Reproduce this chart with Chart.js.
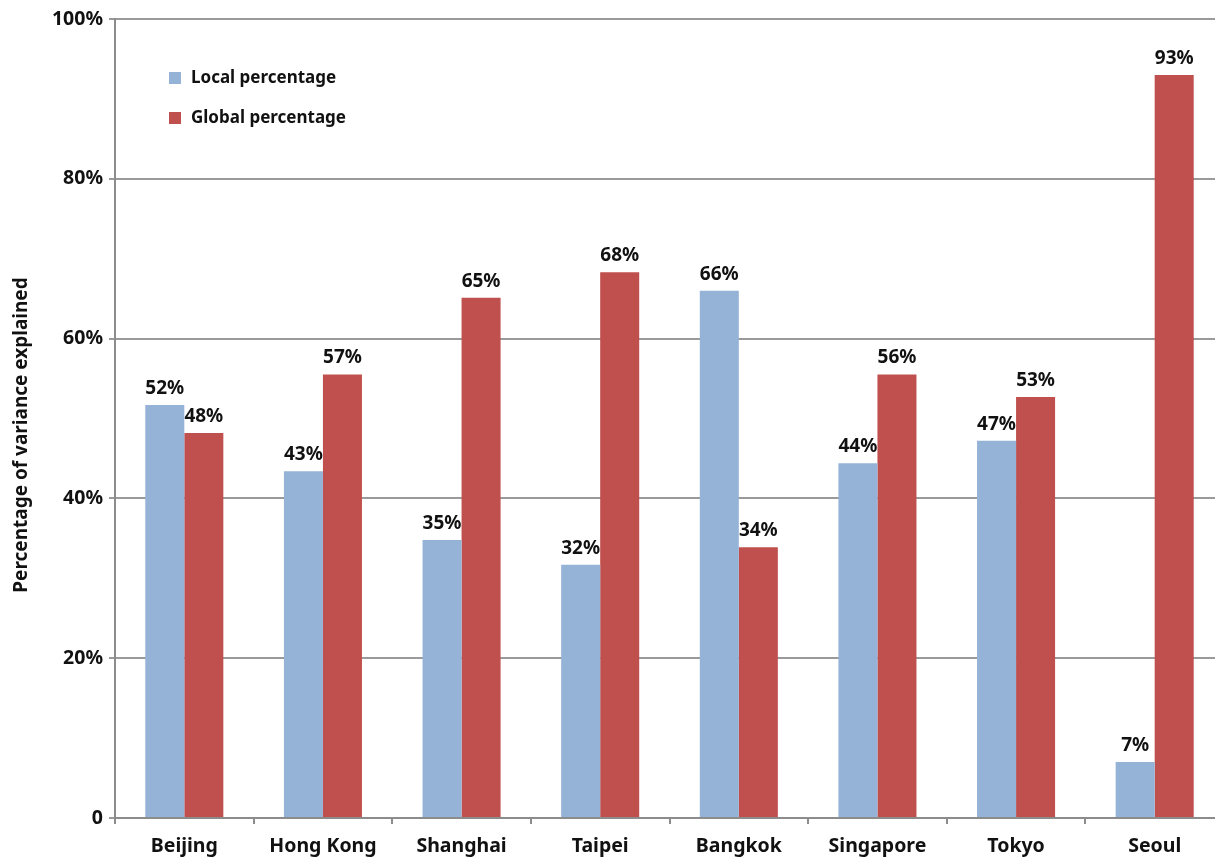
<!DOCTYPE html>
<html>
<head>
<meta charset="utf-8">
<script src="https://cdn.jsdelivr.net/npm/chart.js@4.4.0/dist/chart.umd.min.js"></script>
<style>
  html, body { margin: 0; padding: 0; background: #fff; overflow: hidden; }
  #wrap { width: 1224px; height: 861px; }
</style>
</head>
<body>
<div id="wrap"><canvas id="chart"></canvas></div>
<script>
// data
const cities = ['Beijing', 'Hong Kong', 'Shanghai', 'Taipei', 'Bangkok', 'Singapore', 'Tokyo', 'Seoul'];
const localValues = [51.7, 43.4, 34.8, 31.7, 66.0, 44.4, 47.2, 7.0];
const globalValues = [48.2, 55.5, 65.1, 68.3, 33.9, 55.5, 52.7, 93.0];
const localLabels = ['52%', '43%', '35%', '32%', '66%', '44%', '47%', '7%'];
const globalLabels = ['48%', '57%', '65%', '68%', '34%', '56%', '53%', '93%'];
const yTicks = [0, 20, 40, 60, 80, 100];
const yTitle = 'Percentage of variance explained';

const FONT = '"Noto Sans", sans-serif';

// labels above the bars
const barLabels = {
    id: 'barLabels',
    afterDatasetsDraw(chart) {
        const c = chart.ctx;
        c.save();
        c.font = 'bold 19px ' + FONT;
        c.fillStyle = '#111';
        c.textAlign = 'center';
        c.textBaseline = 'bottom';
        chart.data.datasets.forEach((ds, i) => {
            chart.getDatasetMeta(i).data.forEach((bar, j) => {
                c.fillText(ds.valueLabels[j], bar.x, bar.y - 7);
            });
        });
        c.restore();
    }
};

// legend inside the plot, top left, and the y axis title
const extras = {
    id: 'extras',
    afterDraw(chart) {
        const c = chart.ctx;
        c.save();
        c.font = 'bold 17px ' + FONT;
        c.textBaseline = 'middle';
        chart.data.datasets.forEach((ds, i) => {
            const y = 78 + i * 40;
            c.fillStyle = ds.backgroundColor;
            c.fillRect(169, y - 6, 12, 12);
            c.fillStyle = '#111';
            c.fillText(ds.label, 191, y);
        });
        c.translate(22, 435);
        c.rotate(-Math.PI / 2);
        c.font = 'bold 19px ' + FONT;
        c.textAlign = 'center';
        c.fillText(yTitle, 0, 0);
        c.restore();
    }
};

new Chart(document.getElementById('chart'), {
    type: 'bar',
    data: {
        labels: cities,
        datasets: [
            { label: 'Local percentage', data: localValues, valueLabels: localLabels, backgroundColor: '#95B3D7' },
            { label: 'Global percentage', data: globalValues, valueLabels: globalLabels, backgroundColor: '#C0504D' }
        ]
    },
    options: {
        responsive: true,
        maintainAspectRatio: false,
        animation: false,
        layout: { padding: { top: 19, right: 0, left: 0, bottom: 0 } },
        datasets: { bar: { categoryPercentage: 0.563, barPercentage: 1.0 } },
        plugins: {
            legend: { display: false },
            tooltip: { enabled: false }
        },
        scales: {
            x: {
                offset: true,
                grid: {
                    offset: true,
                    drawOnChartArea: false,
                    drawTicks: true,
                    tickLength: 6,
                    color: '#8c8c8c',
                    lineWidth: 2
                },
                border: { color: '#8c8c8c', width: 2 },
                ticks: {
                    color: '#111',
                    font: { family: FONT, size: 19.5, weight: 'bold' },
                    padding: 11
                },
                afterFit(scale) { scale.height = 43; }
            },
            y: {
                min: 0,
                max: 100,
                afterBuildTicks(scale) { scale.ticks = yTicks.map(v => ({ value: v })); },
                grid: {
                    color: '#9a9a9a',
                    lineWidth: 2,
                    tickLength: 6
                },
                border: { color: '#8c8c8c', width: 2 },
                ticks: {
                    color: '#111',
                    font: { family: FONT, size: 19.5, weight: 'bold' },
                    padding: 6,
                    callback: v => v === 0 ? '0' : v + '%'
                },
                afterFit(scale) { scale.width = 115; }
            }
        }
    },
    plugins: [barLabels, extras]
});
</script>
</body>
</html>
